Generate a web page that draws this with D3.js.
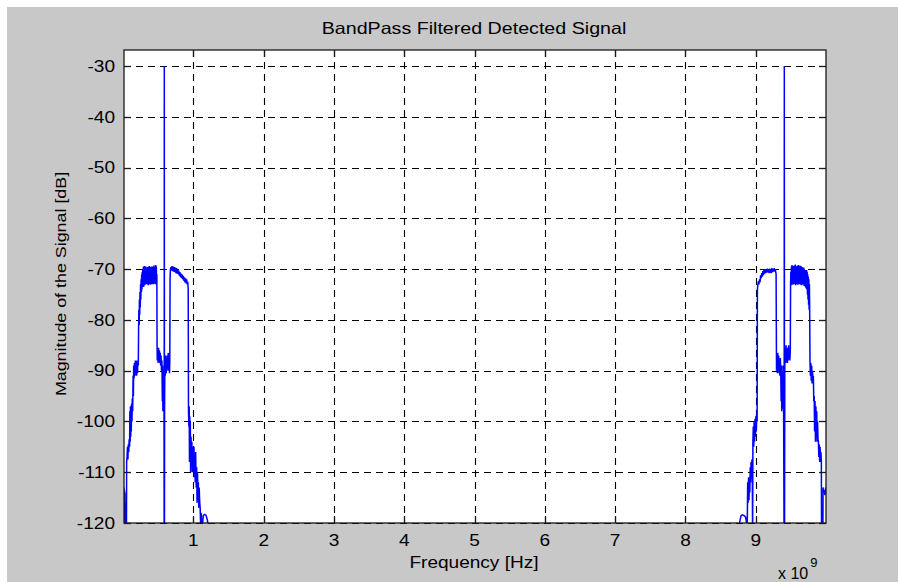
<!DOCTYPE html>
<meta charset="utf-8">
<script src="https://d3js.org/d3.v7.min.js"></script>
<style>
  body { margin: 0; background: #fff; }
  text { font-family: "Liberation Sans", Arial, sans-serif; fill: #000; }
</style>

<div id="chart"></div>

<script>
var chartTitle = "BandPass Filtered Detected Signal";
var xLabel = "Frequency [Hz]";
var yLabel = "Magnitude of the Signal [dB]";

var xTicks = [1, 2, 3, 4, 5, 6, 7, 8, 9];
var yTicks = [-120, -110, -100, -90, -80, -70, -60, -50, -40, -30];

// Spectrum: [frequency in GHz, magnitude in dB].
// Values below -120 are off the bottom of the axes.
var lowBand = [
  [0.0125, -113], [0.016, -120], [0.019, -113.5], [0.022, -120], [0.025, -114], [0.028, -120],
  [0.032, -116], [0.036, -125], [0.044, -125], [0.048, -120], [0.050, -108], [0.056, -107],
  [0.062, -105], [0.068, -107.5], [0.074, -104.5], [0.080, -106], [0.086, -103.5], [0.092, -105],
  [0.096, -98], [0.100, -104], [0.104, -97], [0.108, -103], [0.112, -97.5], [0.116, -102],
  [0.120, -96.5], [0.126, -100], [0.130, -95.5], [0.136, -98], [0.142, -91], [0.146, -95],
  [0.150, -89], [0.156, -91.5], [0.162, -88.5], [0.168, -91], [0.174, -88], [0.180, -90.5],
  [0.186, -88], [0.192, -91], [0.198, -88.5], [0.204, -90.5], [0.210, -88], [0.216, -89],
  [0.220, -82], [0.224, -78], [0.228, -81], [0.232, -76], [0.236, -79], [0.240, -74.5],
  [0.244, -77.5], [0.248, -73], [0.252, -76], [0.256, -72], [0.260, -74.5], [0.264, -71],
  [0.268, -74], [0.272, -70.5], [0.276, -73.5], [0.280, -70], [0.284, -73], [0.288, -69.5],
  [0.292, -73.5], [0.296, -69.8], [0.300, -73], [0.304, -69.4], [0.308, -73.2], [0.312, -70],
  [0.316, -72.8], [0.320, -69.5], [0.324, -73], [0.328, -69.8], [0.332, -72.5], [0.336, -70.2],
  [0.340, -73], [0.344, -69.6], [0.348, -72.7], [0.352, -70], [0.356, -73.2], [0.360, -69.5],
  [0.364, -72.6], [0.368, -70.3], [0.372, -73], [0.376, -69.4], [0.380, -72.8], [0.384, -70.4],
  [0.388, -73.1], [0.392, -69.6], [0.396, -72.6], [0.400, -70], [0.404, -73], [0.408, -69.5],
  [0.412, -72.9], [0.416, -70.1], [0.420, -72.7], [0.424, -69.5], [0.428, -73], [0.432, -69.8],
  [0.436, -72.8], [0.440, -69.3], [0.444, -72.9], [0.448, -69.6], [0.452, -72.7], [0.456, -69.9],
  [0.460, -73], [0.464, -69.2], [0.468, -72.8], [0.472, -69.5], [0.476, -72.5], [0.480, -71],
  [0.483, -85], [0.486, -88], [0.492, -86], [0.498, -88.5], [0.504, -85.5], [0.510, -87.5],
  [0.516, -86], [0.522, -88.5], [0.528, -86.5], [0.534, -89], [0.540, -87], [0.546, -90],
  [0.552, -88], [0.558, -96], [0.562, -89], [0.566, -98], [0.570, -90], [0.574, -97],
  [0.578, -91], [0.582, -98], [0.584, -125], [0.586, -30], [0.588, -125], [0.590, -97],
  [0.594, -89], [0.600, -91], [0.606, -87], [0.612, -90.5], [0.618, -87.5], [0.624, -90],
  [0.630, -87], [0.636, -89.5], [0.642, -86.5], [0.648, -90], [0.654, -87.5], [0.660, -90.5],
  [0.664, -88], [0.668, -72], [0.672, -70.2], [0.680, -69.6], [0.688, -70.3], [0.696, -69.4],
  [0.704, -70.4], [0.712, -69.5], [0.720, -70.5], [0.728, -69.6], [0.736, -70.6], [0.744, -69.7],
  [0.752, -70.8], [0.760, -69.8], [0.768, -70.9], [0.776, -70.0], [0.784, -71.0], [0.792, -70.3],
  [0.800, -71.3], [0.808, -70.6], [0.816, -71.6], [0.824, -70.9], [0.832, -71.8], [0.840, -71.1],
  [0.848, -72.0], [0.856, -71.3], [0.864, -72.3], [0.872, -71.6], [0.880, -72.6], [0.888, -71.8],
  [0.896, -72.8], [0.904, -72.0], [0.912, -73.0], [0.920, -72.5], [0.926, -74], [0.930, -98],
  [0.936, -101], [0.940, -97], [0.944, -108], [0.948, -99], [0.952, -104], [0.956, -100],
  [0.960, -110], [0.966, -103], [0.972, -108], [0.978, -104], [0.984, -110], [0.990, -105],
  [0.996, -106], [1.002, -110], [1.008, -105], [1.014, -111], [1.020, -108], [1.026, -112],
  [1.032, -106], [1.040, -113], [1.046, -109], [1.052, -116], [1.058, -110], [1.064, -114],
  [1.070, -112], [1.076, -117], [1.082, -113], [1.090, -116], [1.096, -117], [1.102, -120],
  [1.110, -118], [1.118, -120], [1.126, -121], [1.140, -118.5], [1.160, -118.3], [1.180, -118.5],
  [1.200, -119.5], [1.212, -121], [1.236, -125]
];

var highBand = [
  [8.751, -125], [8.770, -120], [8.790, -118.6], [8.810, -118.4], [8.830, -118.5], [8.855, -118.8],
  [8.870, -120], [8.880, -120], [8.886, -112], [8.892, -116], [8.898, -111], [8.904, -115.5],
  [8.910, -112], [8.916, -114], [8.922, -109], [8.928, -112], [8.934, -108], [8.940, -111],
  [8.946, -107.5], [8.952, -110.5], [8.956, -125], [8.960, -104], [8.966, -101], [8.972, -105],
  [8.978, -100], [8.984, -104], [8.990, -99.5], [8.996, -103], [9.002, -99], [9.008, -102],
  [9.014, -98.5], [9.020, -100], [9.024, -74], [9.030, -73.2], [9.038, -72.4], [9.046, -73],
  [9.054, -72.0], [9.062, -72.6], [9.070, -71.2], [9.078, -71.8], [9.086, -70.8], [9.094, -71.5],
  [9.102, -70.4], [9.110, -71.2], [9.118, -70.2], [9.126, -70.9], [9.134, -70.0], [9.142, -70.8],
  [9.150, -70.0], [9.158, -70.7], [9.166, -69.9], [9.174, -70.6], [9.182, -70.0], [9.190, -70.8],
  [9.198, -69.9], [9.206, -70.7], [9.214, -70.0], [9.222, -70.8], [9.230, -69.8], [9.238, -70.6],
  [9.246, -70.0], [9.254, -70.5], [9.262, -69.8], [9.270, -70.5], [9.278, -70], [9.290, -71],
  [9.296, -90], [9.302, -87], [9.308, -90.5], [9.314, -86.5], [9.320, -89.5], [9.326, -87],
  [9.332, -90.5], [9.338, -88], [9.344, -91], [9.350, -87.5], [9.356, -90], [9.362, -96],
  [9.366, -89], [9.370, -98], [9.374, -90], [9.378, -97.5], [9.382, -90], [9.386, -96],
  [9.390, -89], [9.396, -95], [9.404, -125], [9.407, -30], [9.410, -125], [9.414, -88],
  [9.420, -85.5], [9.426, -88.5], [9.432, -85], [9.438, -88], [9.444, -86], [9.450, -88.5],
  [9.456, -85.5], [9.462, -88], [9.468, -85], [9.474, -87.5], [9.480, -86], [9.486, -88],
  [9.492, -86], [9.496, -73], [9.500, -70.5], [9.504, -73.2], [9.508, -69.5], [9.512, -73.0],
  [9.516, -69.2], [9.520, -72.8], [9.524, -69.6], [9.528, -73.1], [9.532, -69.4], [9.536, -72.7],
  [9.540, -69.8], [9.544, -73.0], [9.548, -69.3], [9.552, -72.9], [9.556, -69.7], [9.560, -72.6],
  [9.564, -69.1], [9.568, -73.2], [9.572, -69.5], [9.576, -72.8], [9.580, -69.9], [9.584, -73.0],
  [9.588, -69.4], [9.592, -72.7], [9.596, -69.6], [9.600, -73.1], [9.604, -69.2], [9.608, -72.9],
  [9.612, -69.8], [9.616, -73.0], [9.620, -69.5], [9.624, -72.6], [9.628, -69.3], [9.632, -72.9],
  [9.636, -69.7], [9.640, -73.1], [9.644, -69.4], [9.648, -72.8], [9.652, -69.9], [9.656, -73.2],
  [9.660, -69.6], [9.664, -72.7], [9.668, -69.8], [9.672, -73.0], [9.676, -70.0], [9.680, -72.9],
  [9.684, -69.7], [9.688, -73.3], [9.692, -70.1], [9.696, -73.0], [9.700, -70.3], [9.704, -73.4],
  [9.708, -70.2], [9.712, -73.6], [9.716, -70.4], [9.720, -73.8], [9.724, -70.2], [9.728, -74],
  [9.732, -70.5], [9.736, -75], [9.740, -71], [9.744, -76], [9.748, -71.5], [9.752, -77],
  [9.756, -72], [9.760, -78], [9.764, -73], [9.768, -78.5], [9.772, -88], [9.778, -91],
  [9.784, -88.5], [9.790, -92], [9.796, -89], [9.802, -92.5], [9.808, -90], [9.814, -92],
  [9.820, -91], [9.826, -96], [9.832, -95], [9.838, -102], [9.844, -96], [9.850, -104],
  [9.856, -97], [9.862, -103], [9.868, -98], [9.874, -104], [9.880, -100], [9.886, -103.5],
  [9.892, -104], [9.898, -107], [9.904, -104.5], [9.910, -108], [9.916, -105], [9.922, -108],
  [9.928, -106], [9.934, -108], [9.937, -125], [9.955, -125], [9.958, -113], [9.966, -114],
  [9.975, -113.5], [9.985, -114.5], [9.995, -113], [10.005, -113.5]
];

var W = 898, H = 582;
var plot = { left: 124, top: 50, right: 826, bottom: 523 };

var x = d3.scaleLinear().domain([0.0125, 10]).range([plot.left, plot.right]);
var y = d3.scaleLinear().domain([-120, -26.85]).range([plot.bottom, plot.top]);

var svg = d3.select("#chart").append("svg")
    .attr("width", W)
    .attr("height", H);

// Figure background (grey, with a thin white strip at the top and left).
svg.append("rect")
    .attr("x", 7).attr("y", 7)
    .attr("width", W - 7).attr("height", H - 7)
    .attr("fill", "#c8c8c8");

svg.append("rect")
    .attr("x", plot.left).attr("y", plot.top)
    .attr("width", plot.right - plot.left)
    .attr("height", plot.bottom - plot.top)
    .attr("fill", "#fff");

svg.append("clipPath").attr("id", "clip")
    .append("rect")
    .attr("x", plot.left).attr("y", plot.top)
    .attr("width", plot.right - plot.left)
    .attr("height", plot.bottom - plot.top);

// Dashed grid.
var grid = svg.append("g")
    .attr("stroke", "#000")
    .attr("stroke-width", 1.1)
    .attr("stroke-dasharray", "7,5");

grid.selectAll(".vgrid").data(xTicks).enter().append("line")
    .attr("x1", function(d) { return Math.round(x(d)) + 0.5; })
    .attr("x2", function(d) { return Math.round(x(d)) + 0.5; })
    .attr("y1", plot.top)
    .attr("y2", plot.bottom);

grid.selectAll(".hgrid").data(yTicks).enter().append("line")
    .attr("x1", plot.left)
    .attr("x2", plot.right)
    .attr("y1", function(d) { return Math.round(y(d)) + 0.5; })
    .attr("y2", function(d) { return Math.round(y(d)) + 0.5; });

// The spectrum itself.
var line = d3.line()
    .x(function(d) { return x(d[0]); })
    .y(function(d) { return y(d[1]); });

var spectrum = lowBand.concat([[5, -125]], highBand);

svg.append("path")
    .datum(spectrum)
    .attr("clip-path", "url(#clip)")
    .attr("fill", "none")
    .attr("stroke", "#0000ff")
    .attr("stroke-width", 1.5)
    .attr("d", line);

// Axes box and inward ticks on all four sides.
var axes = svg.append("g").attr("stroke", "#1a1a1a").attr("stroke-width", 1.3);

axes.append("rect")
    .attr("x", plot.left).attr("y", plot.top)
    .attr("width", plot.right - plot.left)
    .attr("height", plot.bottom - plot.top)
    .attr("fill", "none");

var tickLen = 7;
xTicks.forEach(function(d) {
    var px = Math.round(x(d)) + 0.5;
    axes.append("line").attr("x1", px).attr("x2", px).attr("y1", plot.bottom).attr("y2", plot.bottom - tickLen);
    axes.append("line").attr("x1", px).attr("x2", px).attr("y1", plot.top).attr("y2", plot.top + tickLen);
});
yTicks.forEach(function(d) {
    var py = Math.round(y(d)) + 0.5;
    axes.append("line").attr("x1", plot.left).attr("x2", plot.left + tickLen).attr("y1", py).attr("y2", py);
    axes.append("line").attr("x1", plot.right).attr("x2", plot.right - tickLen).attr("y1", py).attr("y2", py);
});

// Tick labels.
svg.selectAll(".ylab").data(yTicks).enter().append("text")
    .attr("class", "ylab stretch")
    .attr("x", 115)
    .attr("y", function(d) { return y(d); })
    .attr("dy", "0.36em")
    .attr("text-anchor", "end")
    .style("font-size", "16px")
    .text(function(d) { return d; });

svg.selectAll(".xlab").data(xTicks).enter().append("text")
    .attr("class", "xlab stretch")
    .attr("x", function(d) { return x(d); })
    .attr("y", 546)
    .attr("text-anchor", "middle")
    .style("font-size", "16px")
    .text(function(d) { return d; });

// Title and axis labels.
svg.append("text")
    .attr("class", "stretch")
    .attr("x", 474).attr("y", 34)
    .attr("text-anchor", "middle")
    .style("font-size", "16.5px")
    .text(chartTitle);

svg.append("text")
    .attr("class", "stretch")
    .attr("x", 474).attr("y", 568)
    .attr("text-anchor", "middle")
    .style("font-size", "16px")
    .text(xLabel);

svg.append("text")
    .attr("class", "stretch")
    .attr("transform", "translate(66," + 284 + ") rotate(-90)")
    .attr("text-anchor", "middle")
    .style("font-size", "15px")
    .text(yLabel);

// Exponent note under the right end of the x axis.
var expo = svg.append("text")
    .attr("x", 778).attr("y", 579)
    .style("font-size", "16px");
expo.append("tspan").text("x 10");
expo.append("tspan").attr("dy", -12).attr("dx", 2).style("font-size", "13px").text("9");

// The original lettering is wider than Arial: stretch every label horizontally.
svg.selectAll(".stretch").each(function() {
    var len = this.getComputedTextLength();
    d3.select(this)
        .attr("textLength", len * 1.19)
        .attr("lengthAdjust", "spacingAndGlyphs");
});
</script>
